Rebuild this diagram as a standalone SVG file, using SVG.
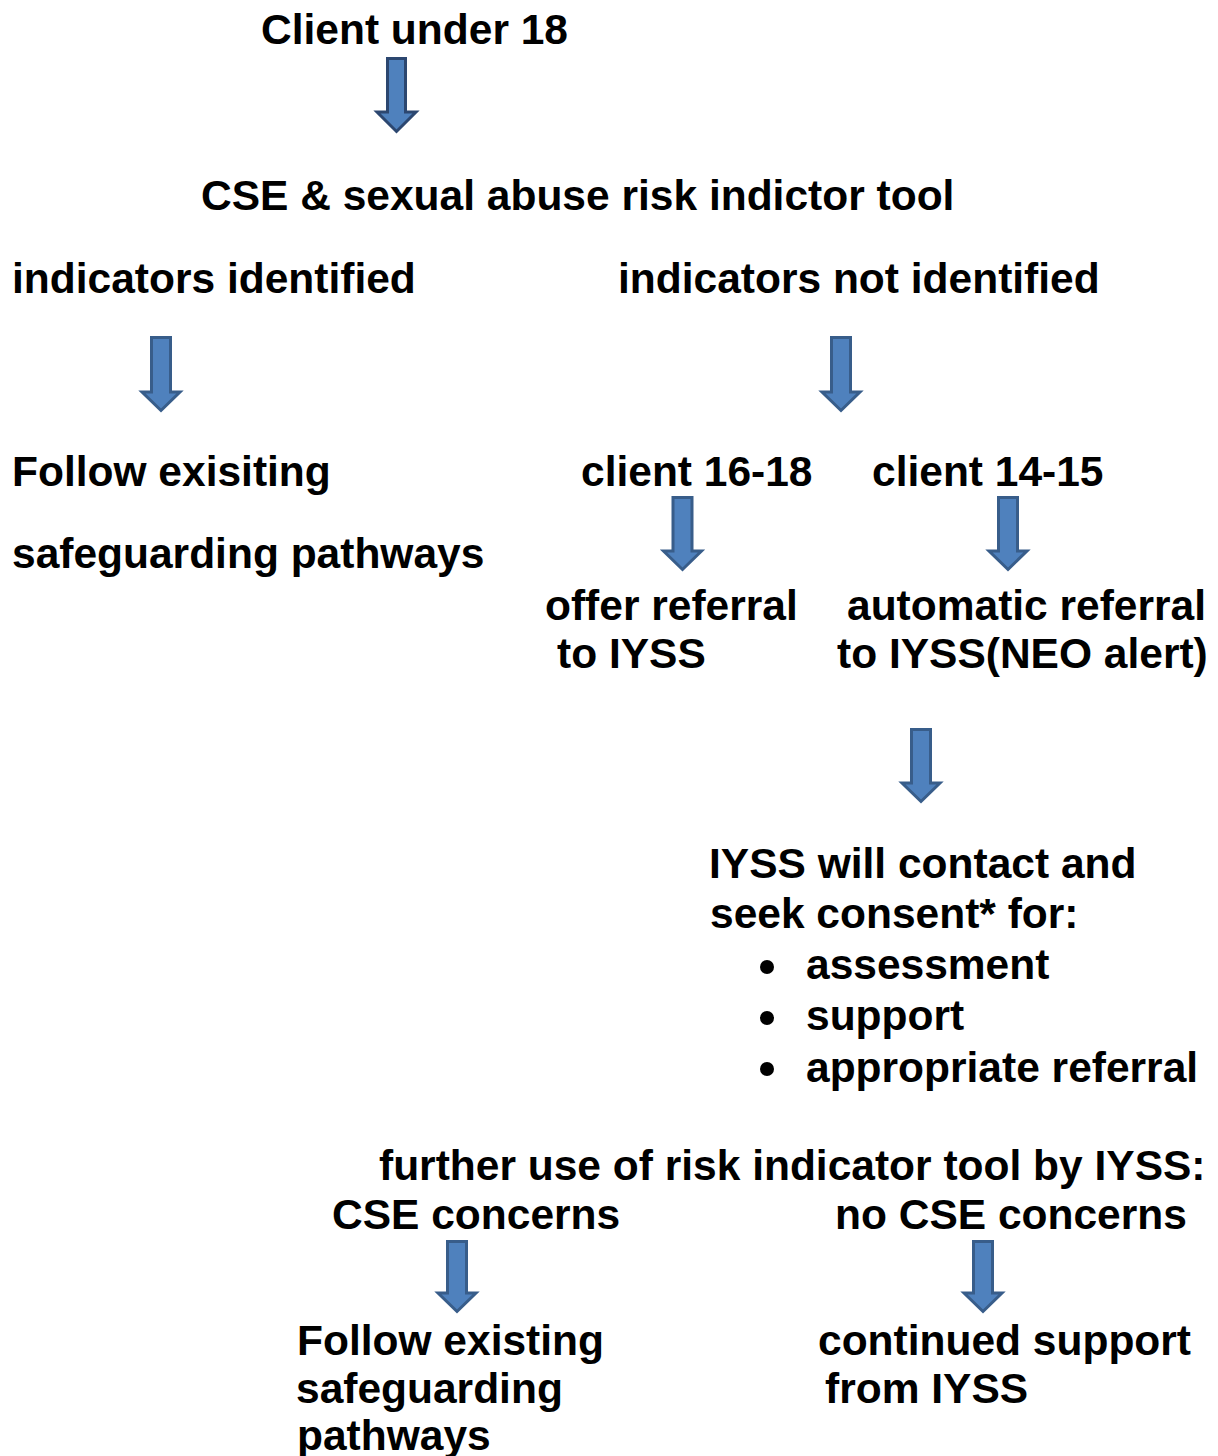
<svg xmlns="http://www.w3.org/2000/svg" width="1218" height="1456" viewBox="0 0 1218 1456">
<style>
text{font-family:"Liberation Sans",Arial,sans-serif;font-weight:bold;font-size:42.5px;fill:#000}
.arr{fill:#4F81BD;stroke:#385D8A;stroke-width:3;stroke-linejoin:miter}
.arr.dk{stroke:#2C4770}
</style>
<rect width="1218" height="1456" fill="#fff"/>
<g id="connectors">
<path class="arr dk" d="M387.5,58.5 H405.5 V112 H416 L396.5,131.5 L377,112 H387.5 Z"/>
<path class="arr" d="M151.5,337.5 H170.5 V392 H180 L161,410.5 L142,392 H151.5 Z"/>
<path class="arr" d="M831.5,337.5 H850.5 V392 H860 L841,410.5 L822,392 H831.5 Z"/>
<path class="arr" d="M673,497.5 H692 V551 H701.5 L682.5,569.5 L663.5,551 H673 Z"/>
<path class="arr" d="M998.5,497.5 H1017.5 V551 H1027 L1008,569.5 L989,551 H998.5 Z"/>
<path class="arr" d="M911.5,729.5 H930.5 V783 H940 L921,801.5 L902,783 H911.5 Z"/>
<path class="arr" d="M447.5,1241.5 H466.5 V1293 H476 L457,1311.5 L438,1293 H447.5 Z"/>
<path class="arr" d="M973.5,1241.5 H992.5 V1293 H1002 L983,1311.5 L964,1293 H973.5 Z"/>
</g>
<g id="n-client"><text x="261" y="44">Client under 18</text></g>
<g id="n-tool"><text x="201" y="210">CSE &amp; sexual abuse risk indictor tool</text></g>
<g id="n-identified"><text x="12" y="293">indicators identified</text></g>
<g id="n-notidentified"><text x="618" y="293">indicators not identified</text></g>
<g id="n-follow1"><text x="12" y="486">Follow exisiting</text><text x="12" y="568">safeguarding pathways</text></g>
<g id="n-1618"><text x="581" y="486">client 16-18</text></g>
<g id="n-1415"><text x="872" y="486">client 14-15</text></g>
<g id="n-offer"><text x="545" y="620">offer referral</text><text x="557" y="668">to IYSS</text></g>
<g id="n-auto"><text x="847" y="620">automatic referral</text><text x="837" y="668">to IYSS(NEO alert)</text></g>
<g id="n-contact">
<text x="709" y="878">IYSS will contact and</text>
<text x="710" y="928">seek consent* for:</text>
<circle cx="767" cy="967" r="7"/>
<text x="806" y="979">assessment</text>
<circle cx="767" cy="1018" r="7"/>
<text x="806" y="1030">support</text>
<circle cx="767" cy="1069" r="7"/>
<text x="806" y="1082">appropriate referral</text>
</g>
<g id="n-further"><text x="379" y="1180">further use of risk indicator tool by IYSS:</text></g>
<g id="n-cse"><text x="332" y="1229">CSE concerns</text></g>
<g id="n-nocse"><text x="835" y="1229">no CSE concerns</text></g>
<g id="n-follow2"><text x="297" y="1355">Follow existing</text><text x="296" y="1403">safeguarding</text><text x="297" y="1450">pathways</text></g>
<g id="n-continued"><text x="818" y="1355">continued support</text><text x="825" y="1403">from IYSS</text></g>
</svg>
